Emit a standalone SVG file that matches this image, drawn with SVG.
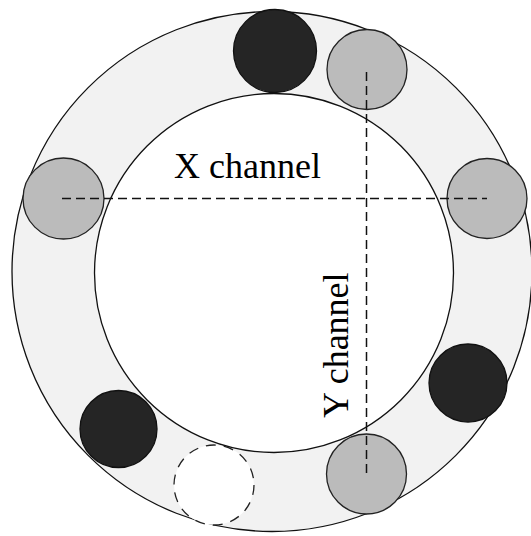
<svg xmlns="http://www.w3.org/2000/svg" width="531" height="536" viewBox="0 0 531 536">
<style>
.ring{fill:#f2f2f2;stroke:#111;stroke-width:1.3}
.inner{fill:#ffffff;stroke:#111;stroke-width:1.3}
.gray{fill:#bbbbbb;stroke:#222;stroke-width:1.3}
.black{fill:#252525;stroke:#111;stroke-width:1.3}
.empty{fill:#ffffff;stroke:#222;stroke-width:1.3;stroke-dasharray:10 8}
.ch{fill:none;stroke:#111;stroke-width:1.5;stroke-dasharray:9 5}
.lbl{font-family:"Liberation Serif","Times New Roman",serif;font-size:36px;fill:#000}
</style>
<rect width="531" height="536" fill="#ffffff"/>
<g id="outer-ring"><circle class="ring" cx="272" cy="271.5" r="260"/></g>
<g id="inner-disk"><circle class="inner" cx="274" cy="273" r="179.5"/></g>
<g id="black-top"><circle class="black" cx="275" cy="51" r="41.5"/></g>
<g id="gray-top-right"><circle class="gray" cx="367" cy="69.5" r="40"/></g>
<g id="gray-left"><circle class="gray" cx="63.5" cy="198.5" r="40.5"/></g>
<g id="gray-right"><circle class="gray" cx="487" cy="198.5" r="40"/></g>
<g id="black-right"><circle class="black" cx="468" cy="383" r="39"/></g>
<g id="gray-bottom"><circle class="gray" cx="366.5" cy="474" r="40"/></g>
<g id="black-bottom-left"><circle class="black" cx="118.5" cy="429" r="38.5"/></g>
<g id="empty-bottom"><circle class="empty" cx="214" cy="485" r="40"/></g>
<g id="connectors">
<line class="ch" x1="62" y1="198.5" x2="487" y2="198.5"/>
<line class="ch" x1="366.5" y1="72" x2="366.5" y2="477"/>
</g>
<g id="x-label"><text class="lbl" x="174" y="178">X channel</text></g>
<g id="y-label"><text class="lbl" transform="translate(348 418) rotate(-90)">Y channel</text></g>
</svg>
